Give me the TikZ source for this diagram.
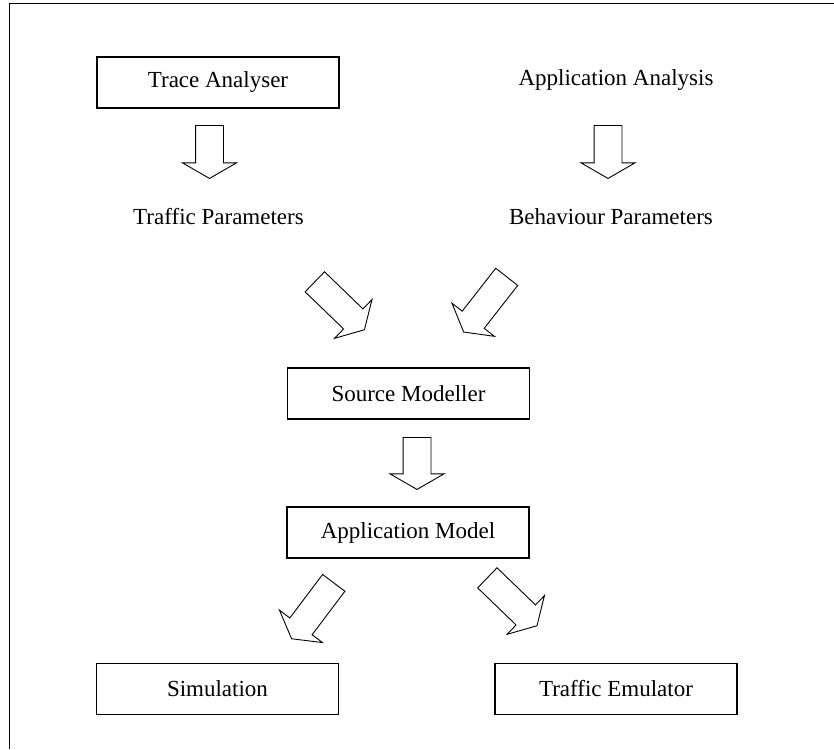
\documentclass[tikz,border=0pt]{standalone}
\usepackage{fontspec}
\setmainfont{Liberation Serif}
\usetikzlibrary{shapes.arrows}

\begin{document}
\begin{tikzpicture}[x=1pt,y=1pt,font=\fontsize{23}{27}\selectfont,
  block/.style={draw,line width=1.1pt,minimum width=242pt,minimum height=51pt,inner sep=0pt},
  fat/.style={single arrow,draw,line width=0.9pt,inner xsep=0pt,inner ysep=13.5pt,single arrow head extend=13pt,single arrow tip angle=120,anchor=tail}]
\useasboundingbox (0,0) rectangle (834,-749);
\draw[line width=1pt] (834,-4) -- (9,-4) -- (9,-749);
\node[block] (trace) at (218,-82.5) {Trace Analyser};
\node (appana) at (616,-80) {Application Analysis};
\node (trafpar) at (218.5,-217) {Traffic Parameters};
\node (behpar) at (611,-217) {Behaviour Parameters};
\node[block] (source) at (408.5,-393.5) {Source Modeller};
\node[block] (appmod) at (408,-532.5) {Application Model};
\node[block] (sim) at (217.5,-689) {Simulation};
\node[block] (emu) at (616,-689) {Traffic Emulator};
\node[fat,rotate=-90,minimum height=53pt] (arrtrace) at (209.5,-125) {};
\node[fat,rotate=-90,minimum height=53pt] (arrappana) at (608,-125) {};
\node[fat,rotate=-44,minimum height=69pt] (arrtrafpar) at (314.5,-281.5) {};
\node[fat,rotate=-128,minimum height=70pt] (arrbehpar) at (507,-276.5) {};
\node[fat,rotate=-90,minimum height=52pt] (arrsource) at (417,-437) {};
\node[fat,rotate=-127,minimum height=70pt] (arrsim) at (334,-582.5) {};
\node[fat,rotate=-44,minimum height=69pt] (arremu) at (487,-577.5) {};
\end{tikzpicture}
\end{document}
